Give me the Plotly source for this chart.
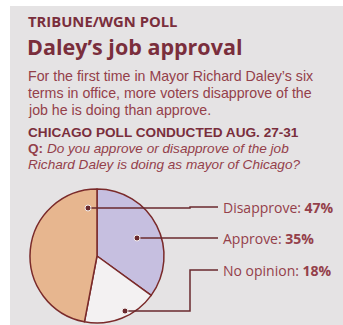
import plotly.graph_objects as go

# ---- data ----
categories = ["Approve", "No opinion", "Disapprove"]
values = [35, 18, 47]
slice_colors = ["#c6bfe0", "#f3f1f2", "#e7b68f"]

label_order = ["Disapprove", "Approve", "No opinion"]

title_kicker = "TRIBUNE/WGN POLL"
title_main = "Daley’s job approval"
body_lines = [
    "For the first time in Mayor Richard Daley’s six",
    "terms in office, more voters disapprove of the",
    "job he is doing than approve.",
]
poll_line = "CHICAGO POLL CONDUCTED AUG. 27-31"
question_lines = [
    "<b>Q:</b> <i>Do you approve or disapprove of the job</i>",
    "<i>Richard Daley is doing as mayor of Chicago?</i>",
]

# ---- layout helpers ----
W, H = 343, 325
def px(x):
    return x / W
def py(y):
    return 1 - y / H

MAROON = "#7a2e3c"
TEXT = "#94404a"
LINE = "#6a2a2e"
BG = "#e5e3e4"
FONT = "Open Sans"
SMALL = "Liberation Sans"

cx, cy, r = 97, 256, 67

fig = go.Figure()
fig.add_trace(go.Pie(
    labels=categories, values=values, sort=False, direction="clockwise",
    rotation=0, textinfo="none", hoverinfo="label+percent",
    marker=dict(colors=slice_colors, line=dict(color="#7a2a2a", width=1.5)),
    domain=dict(x=[px(cx - r), px(cx + r)], y=[py(cy + r), py(cy - r)]),
    showlegend=False,
))

shapes = [dict(type="rect", xref="paper", yref="paper", x0=px(10), x1=1.0,
               y0=0, y1=py(6), fillcolor=BG, line=dict(width=0), layer="below")]
annotations = []

def text_ann(text, x, y, size, color, family=FONT):
    return dict(text=text, x=px(x), y=py(y), xanchor="left", yanchor="middle",
                showarrow=False, font=dict(family=family, size=size, color=color),
                borderpad=0)

annotations.append(text_ann("<b>" + title_kicker + "</b>", 27, 21.5, 14.8, MAROON))
annotations.append(text_ann("<b>" + title_main + "</b>", 26, 47, 21.5, MAROON))
for i, line in enumerate(body_lines):
    annotations.append(text_ann(line, 27, 76 + 17 * i, 14.2, TEXT, SMALL))
annotations.append(text_ann("<b>" + poll_line + "</b>", 27, 132.5, 13.6, MAROON, SMALL))
for i, line in enumerate(question_lines):
    annotations.append(text_ann(line, 27, 148.5 + 15.5 * i, 13.6, TEXT, SMALL))

# labels + leaders
label_y = [207, 238, 270]
dot_pos = [(88, 208), (137, 238), (125, 311)]
vals = dict(zip(categories, values))
for name, ly, (dx, dy) in zip(label_order, label_y, dot_pos):
    annotations.append(text_ann(f"{name}: <b>{vals[name]}%</b>", 222, ly, 14, TEXT))
    if dy == ly:
        path = f"M {px(dx)} {py(dy)} L {px(218)} {py(ly)}"
    else:
        path = (f"M {px(dx)} {py(dy)} L {px(190)} {py(dy)} L {px(190)} {py(ly)} "
                f"L {px(218)} {py(ly)}")
    shapes.append(dict(type="path", xref="paper", yref="paper", path=path,
                       line=dict(color=LINE, width=1.5)))
    shapes.append(dict(type="circle", xref="paper", yref="paper",
                       x0=px(dx - 3), x1=px(dx + 3), y0=py(dy + 3), y1=py(dy - 3),
                       fillcolor=LINE, line=dict(color="#f4eeee", width=1)))

fig.update_layout(width=W, height=H, margin=dict(l=0, r=0, t=0, b=0),
                  paper_bgcolor="white", plot_bgcolor="white",
                  shapes=shapes, annotations=annotations)

fig.write_html("out.html", config={"displayModeBar": False},
               post_script="document.body.style.margin='0';document.body.style.overflow='hidden';")
